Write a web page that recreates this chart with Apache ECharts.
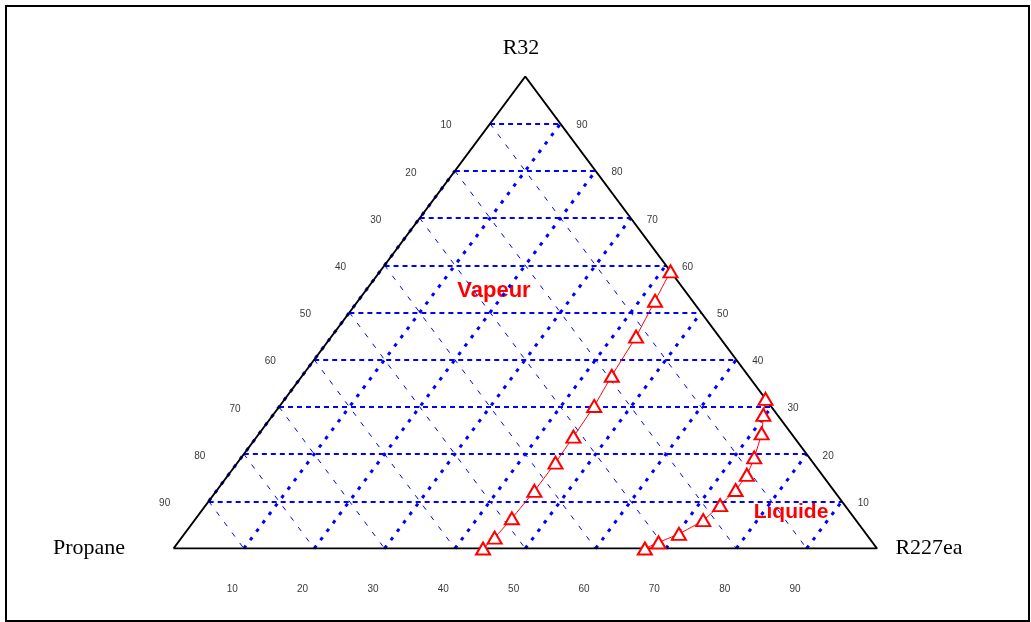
<!DOCTYPE html>
<html>
<head>
<meta charset="utf-8">
<script src="https://cdn.jsdelivr.net/npm/echarts@6/dist/echarts.min.js"></script>
<style>
html,body{margin:0;padding:0;background:#fff;}
#chart{width:1031px;height:622px;}
</style>
</head>
<body>
<div id="chart"></div>
<script>
// ---- data (fractions) ----
var tickValues = [10, 20, 30, 40, 50, 60, 70, 80, 90];
var leftTickLabels = ['10', '20', '30', '40', '50', '60', '70', '80', '90'];   // Propane
var rightTickLabels = ['90', '80', '70', '60', '50', '40', '30', '20', '10'];  // R32
var bottomTickLabels = ['10', '20', '30', '40', '50', '60', '70', '80', '90'];  // R227ea
var vertexNames = ['R32', 'Propane', 'R227ea'];

var vapeurR32 =    [0.000, 0.023, 0.064, 0.122, 0.182, 0.237, 0.302, 0.366, 0.449, 0.525, 0.587];
var vapeurR227ea = [0.440, 0.445, 0.449, 0.452, 0.452, 0.450, 0.447, 0.440, 0.433, 0.422, 0.413];
var liquideR32 =    [0.000, 0.013, 0.031, 0.060, 0.092, 0.124, 0.156, 0.193, 0.244, 0.283, 0.317];
var liquideR227ea = [0.670, 0.683, 0.703, 0.723, 0.731, 0.737, 0.737, 0.729, 0.714, 0.697, 0.683];

// ternary (R32 = a, R227ea = b) -> cartesian data coords
function tern(a, b) { return [b + a / 2, a]; }

function toPoints(aArr, bArr) {
  return aArr.map(function (a, i) { return tern(a, bArr[i]); });
}

var BLUE = '#0000ff';

// grid line families
var r32Lines = [], r227Lines = [], propLines = [];
tickValues.forEach(function (t) {
  var f = t / 100;
  r32Lines.push({ coords: [tern(f, 0), tern(f, 1 - f)] });          // horizontal
  r227Lines.push({ coords: [tern(0, f), tern(1 - f, f)] });         // parallel to left edge
  propLines.push({ coords: [tern(1 - f, 0), tern(0, 1 - f)] });     // parallel to right edge
});
// edge lines (value 0)
r32Lines.push({ coords: [tern(-0.004, 0.1), tern(-0.004, 0.9)] });
r227Lines.push({ coords: [tern(0.1, 0), tern(0.8, 0)] });
propLines.push({ coords: [tern(0.9, 0.1), tern(0.1, 0.9)] });

var leftLabelData = tickValues.map(function (t, i) {
  var a = 1 - t / 100;
  return { value: tern(a, 0), label: { formatter: leftTickLabels[i] } };
});
var rightLabelData = tickValues.map(function (t, i) {
  var a = 1 - t / 100;
  return { value: tern(a, 1 - a), label: { formatter: rightTickLabels[i] } };
});
var bottomLabelData = tickValues.map(function (t, i) {
  return { value: tern(0, t / 100), label: { formatter: bottomTickLabels[i] } };
});

function labelSeries(data, offset) {
  return {
    type: 'scatter', data: data, symbolSize: 0.1, silent: true,
    itemStyle: { color: 'transparent' }, z: 5,
    label: {
      show: true, position: 'inside', offset: offset,
      fontFamily: 'Liberation Sans', fontSize: 10, color: '#000',
      align: 'center', verticalAlign: 'middle'
    }
  };
}

var chart = echarts.init(document.getElementById('chart'), null, { renderer: 'canvas' });
chart.setOption({
  animation: false,
  backgroundColor: '#fff',
  grid: { left: 173.5, top: 76.5, width: 703.5, height: 472 },
  xAxis: { type: 'value', min: 0, max: 1, show: false },
  yAxis: { type: 'value', min: 0, max: 1, show: false },
  series: [
    { type: 'lines', coordinateSystem: 'cartesian2d', data: propLines, silent: true, z: 1,
      lineStyle: { color: BLUE, width: 1, type: [5, 8], opacity: 1 } },
    { type: 'lines', coordinateSystem: 'cartesian2d', data: r227Lines, silent: true, z: 2,
      lineStyle: { color: BLUE, width: 3, type: [3.5, 7], opacity: 1 } },
    { type: 'lines', coordinateSystem: 'cartesian2d', data: r32Lines, silent: true, z: 2,
      lineStyle: { color: BLUE, width: 2, type: [5, 4], opacity: 1 } },
    { type: 'line', data: [tern(0, 0), tern(0, 1), tern(1, 0), tern(0, 0)], symbol: 'none', silent: true, z: 3,
      lineStyle: { color: '#000', width: 2 } },
    { type: 'line', name: 'Vapeur', data: toPoints(vapeurR32, vapeurR227ea), smooth: 0.2, z: 4,
      symbol: 'triangle', symbolSize: [14, 12],
      lineStyle: { color: '#ff0000', width: 1 },
      itemStyle: { color: '#ffffff', borderColor: '#ff0000', borderWidth: 2 } },
    { type: 'line', name: 'Liquide', data: toPoints(liquideR32, liquideR227ea), smooth: 0.2, z: 4,
      symbol: 'triangle', symbolSize: [14, 12],
      lineStyle: { color: '#ff0000', width: 1 },
      itemStyle: { color: '#ffffff', borderColor: '#ff0000', borderWidth: 2 } },
    labelSeries(leftLabelData, [-44, 2]),
    labelSeries(rightLabelData, [21.5, 1.8]),
    labelSeries(bottomLabelData, [-11.6, 40.5])
  ],
  graphic: [
    { type: 'rect', shape: { x: 6, y: 6, width: 1023, height: 615 }, silent: true,
      style: { fill: 'none', stroke: '#000', lineWidth: 2 } },
    { type: 'text', x: 521, y: 48, silent: true,
      style: { text: vertexNames[0], font: '22px "Liberation Serif"', fill: '#000', align: 'center', verticalAlign: 'middle' } },
    { type: 'text', x: 89, y: 548, silent: true,
      style: { text: vertexNames[1], font: '22px "Liberation Serif"', fill: '#000', align: 'center', verticalAlign: 'middle' } },
    { type: 'text', x: 929, y: 548, silent: true,
      style: { text: vertexNames[2], font: '22px "Liberation Serif"', fill: '#000', align: 'center', verticalAlign: 'middle' } },
    { type: 'text', x: 494, y: 291, silent: true,
      style: { text: 'Vapeur', font: 'bold 22px "Liberation Sans"', fill: '#ff0000', align: 'center', verticalAlign: 'middle' } },
    { type: 'text', x: 791, y: 512, silent: true,
      style: { text: 'Liquide', font: 'bold 21px "Liberation Sans"', fill: '#ff0000', align: 'center', verticalAlign: 'middle' } }
  ]
});
</script>
</body>
</html>
